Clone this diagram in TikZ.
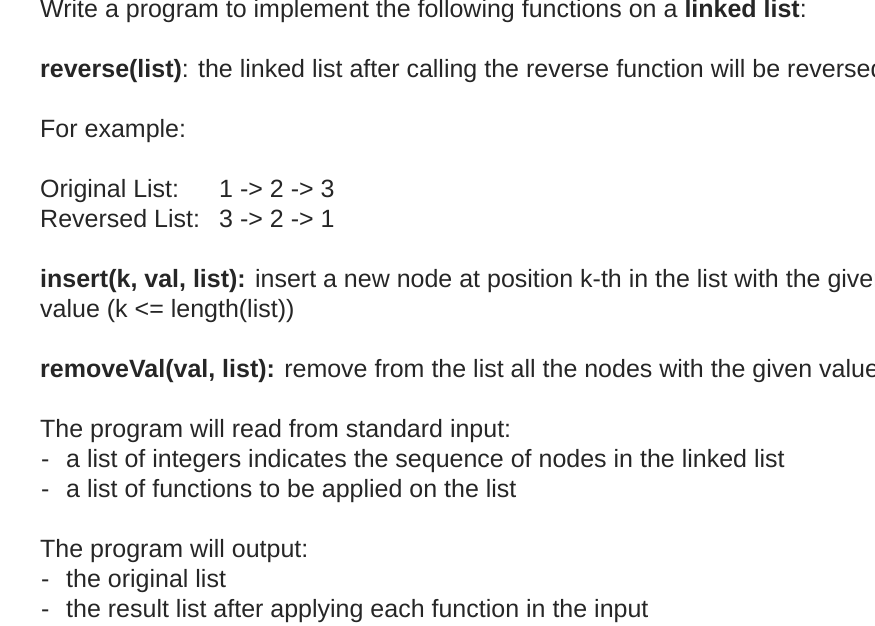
\documentclass[tikz,border=0pt]{standalone}
\usepackage{fontspec}
\setmainfont{Liberation Sans}
\begin{document}
\begin{tikzpicture}[x=1pt,y=-1pt,txt/.style={anchor=base west,inner sep=0pt,font=\fontsize{25}{28}\selectfont,text=black!85}]
\useasboundingbox (0,0) rectangle (875,625);
\clip (0,0) rectangle (875,625);
\node[txt] (l1) at (40,17) {Write a program to implement the following functions on a \textbf{linked list}:};
\node[txt] (l2) at (40,77) {\textbf{reverse(list)}: the linked list after calling the reverse function will be reversed};
\node[txt] (l3) at (40,137) {For example:};
\node[txt] (l4) at (40,197) {Original List:};
\node[txt] (l4b) at (219,197) {1 -> 2 -> 3};
\node[txt] (l5) at (40,227) {Reversed List:};
\node[txt] (l5b) at (219,227) {3 -> 2 -> 1};
\node[txt] (l6) at (40,287) {\textbf{insert(k, val, list):} insert a new node at position k-th in the list with the given};
\node[txt] (l7) at (40,317) {value (k <= length(list))};
\node[txt] (l8) at (40,377) {\textbf{removeVal(val, list):} remove from the list all the nodes with the given value};
\node[txt] (l9) at (40,437) {The program will read from standard input:};
\node[txt] (d1) at (41,467) {-};
\node[txt] (l10) at (66,467) {a list of integers indicates the sequence of nodes in the linked list};
\node[txt] (d2) at (41,497) {-};
\node[txt] (l11) at (66,497) {a list of functions to be applied on the list};
\node[txt] (l12) at (40,557) {The program will output:};
\node[txt] (d3) at (41,587) {-};
\node[txt] (l13) at (66,587) {the original list};
\node[txt] (d4) at (41,617) {-};
\node[txt] (l14) at (66,617) {the result list after applying each function in the input};
\end{tikzpicture}
\end{document}
